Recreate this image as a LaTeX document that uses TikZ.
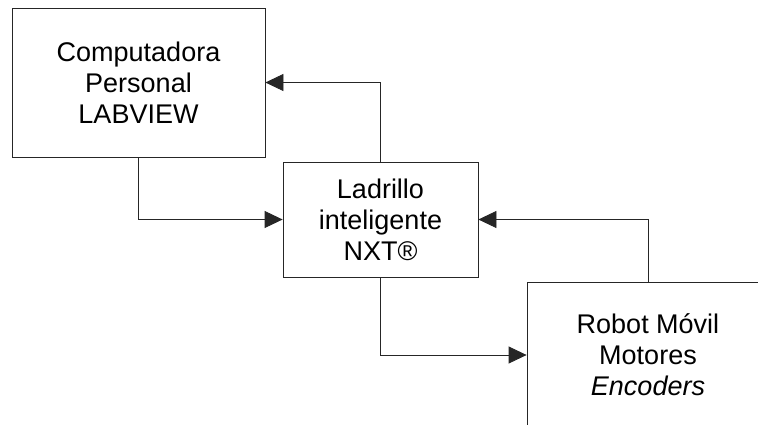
\documentclass[tikz,border=0pt]{standalone}
\usepackage{fontspec}
\setmainfont{Liberation Sans}
\usetikzlibrary{arrows.meta}
\begin{document}
\begin{tikzpicture}[x=1pt,y=-1pt,
  blockbox/.style={draw=black!85, line width=0.8pt, align=center, inner sep=0pt,
    font=\fontsize{27}{31}\selectfont},
  conn/.style={draw=black!85, line width=0.8pt, -{Triangle[length=18pt,width=17pt]}}]
\useasboundingbox (0,0) rectangle (758,424);
\clip (0,0) rectangle (758,424);
\node[blockbox, minimum width=253pt, minimum height=149pt] (pc) at (138.5,82.5)
  {Computadora\\Personal\\LABVIEW};
\node[blockbox, minimum width=195pt, minimum height=115pt] (nxt) at (380.5,219.5)
  {Ladrillo\\inteligente\\NXT®};
\node[blockbox, minimum width=242pt, minimum height=146pt] (robot) at (648,355)
  {Robot Móvil\\Motores\\\textit{Encoders}};
\draw[conn] (nxt.north) |- (pc.east);
\draw[conn] (pc.south) |- (nxt.west);
\draw[conn] (robot.north) |- (nxt.east);
\draw[conn] (nxt.south) |- (robot.west);
\end{tikzpicture}
\end{document}
